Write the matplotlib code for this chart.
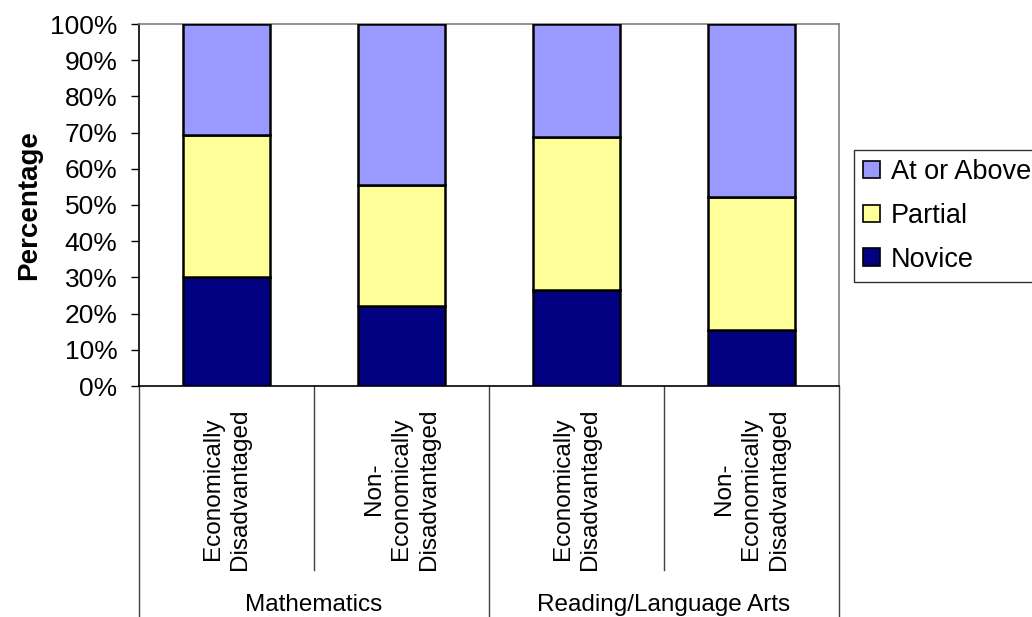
import matplotlib
matplotlib.use("Agg")
import matplotlib.pyplot as plt
from matplotlib.patches import Patch

plt.rcParams['font.family'] = ['Liberation Sans', 'DejaVu Sans']

# Sub-groups and subjects
categories = ["Economically\nDisadvantaged", "Non-\nEconomically\nDisadvantaged",
              "Economically\nDisadvantaged", "Non-\nEconomically\nDisadvantaged"]
subjects = ["Mathematics", "Reading/Language Arts"]

# Percent of students at each performance level
novice = [30.2, 22.0, 26.4, 15.4]
partial = [39.1, 33.6, 42.5, 36.9]
at_or_above = [30.7, 44.4, 31.1, 47.7]

tick_values = [0, 10, 20, 30, 40, 50, 60, 70, 80, 90, 100]
tick_labels = [f"{v}%" for v in tick_values]

colors = {"Novice": "#000080", "Partial": "#FFFF99", "At or Above": "#9999FF"}

W, H = 1032, 617
fig = plt.figure(figsize=(W / 100, H / 100), dpi=100)
ax = fig.add_axes([139 / W, 1 - 386 / H, 700 / W, 362 / H])

x = list(range(len(categories)))
bottom2 = [a + b for a, b in zip(novice, partial)]
kw = dict(width=0.5, edgecolor="black", linewidth=1.8, zorder=3)
ax.bar(x, novice, color=colors["Novice"], **kw)
ax.bar(x, partial, bottom=novice, color=colors["Partial"], **kw)
ax.bar(x, at_or_above, bottom=bottom2, color=colors["At or Above"], **kw)

ax.set_xlim(-0.5, len(categories) - 0.5)
ax.set_ylim(0, 100)
ax.set_yticks(tick_values)
ax.set_yticklabels(tick_labels, fontsize=19)
ax.tick_params(axis="y", direction="out", length=6, width=1, pad=9.5, colors="black")
ax.set_xticks([])

for side in ("top", "right"):
    ax.spines[side].set_color("#808080")
    ax.spines[side].set_linewidth(1.2)
for side in ("left", "bottom"):
    ax.spines[side].set_color("black")
    ax.spines[side].set_linewidth(1.2)

ax.set_ylabel("Percentage", fontsize=20, fontweight="bold", va="center")
ax.yaxis.set_label_coords(-0.157, 0.5)

# Multi-level category axis below the plot
tr = ax.get_xaxis_transform()
sub_depth = -(570 - 386) / 362
full_depth = -(640 - 386) / 362
n_per_group = len(categories) // len(subjects)
for i in range(len(categories) + 1):
    xb = i - 0.5
    depth = full_depth if i % n_per_group == 0 else sub_depth
    ax.plot([xb, xb], [0, depth], transform=tr, color="#404040", lw=1.0,
            clip_on=False, zorder=1)

for xi, lab in zip(x, categories):
    ax.text(xi, -22 / 362, lab, transform=tr, rotation=90, ha="center", va="top",
            multialignment="center", fontsize=17.5, linespacing=1.3)

for g, subj in enumerate(subjects):
    xc = g * n_per_group + (n_per_group - 1) / 2
    ax.text(xc, -(605 - 386) / 362, subj, transform=tr, ha="center", va="center",
            fontsize=17.5)

# Legend
handles = [Patch(facecolor=colors[k], edgecolor="black", linewidth=1.2)
           for k in ("At or Above", "Partial", "Novice")]
leg = fig.legend(handles, ["At or Above", "Partial", "Novice"],
                 loc="lower left", bbox_to_anchor=(854 / W, 1 - 282 / H),
                 frameon=True, fancybox=False, fontsize=19.5, borderaxespad=0,
                 handlelength=0.6, handleheight=0.6, handletextpad=0.4,
                 labelspacing=0.65, borderpad=0.35)
leg.get_frame().set_edgecolor("black")
leg.get_frame().set_linewidth(1.0)

fig.savefig("out.png", dpi=100, facecolor="white")
